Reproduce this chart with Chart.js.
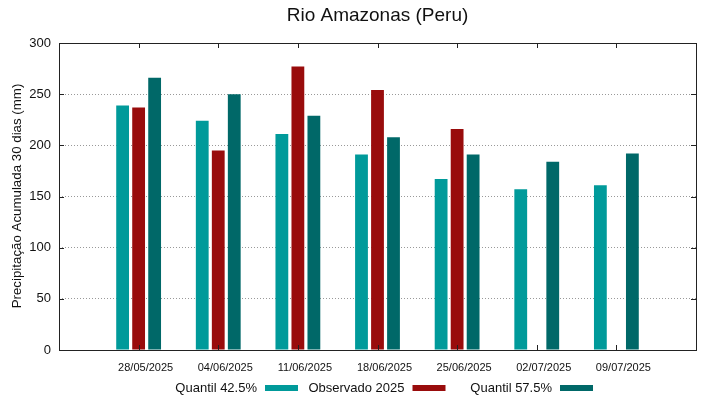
<!DOCTYPE html>
<html>
<head>
<meta charset="utf-8">
<script src="https://cdn.jsdelivr.net/npm/chart.js@4/dist/chart.umd.min.js"></script>
<style>
html,body{margin:0;padding:0;background:#fff;}
#wrap{position:relative;width:719px;height:399px;}
</style>
</head>
<body>
<div id="wrap"><canvas id="c" width="719" height="399"></canvas></div>
<script>
const titleText = 'Rio Amazonas (Peru)';
const yTitle = 'Precipitação Acumulada 30 dias (mm)';
const dates = ['28/05/2025','04/06/2025','11/06/2025','18/06/2025','25/06/2025','02/07/2025','09/07/2025'];
const q425 = [239, 224, 211, 191, 167, 157, 161];
const obs2025 = [237, 195, 277, 254, 216, null, null];
const q575 = [266, 250, 229, 208, 191, 184, 192];
const yTicks = [0, 50, 100, 150, 200, 250, 300];
const seriesNames = ['Quantil 42.5%', 'Observado 2025', 'Quantil 57.5%'];
const seriesColors = ['#009a9a', '#990c0c', '#006868'];

const labels = [''].concat(dates, ['']);
const pad = arr => [null].concat(arr, [null]);

const FONT = '"Liberation Sans", Arial, sans-serif';

const framePlugin = {
  id: 'frame',
  afterDraw(chart) {
    const ctx = chart.ctx;
    const a = chart.chartArea;
    const xs = chart.scales.x, ys = chart.scales.y;
    ctx.save();
    // border
    ctx.strokeStyle = '#222';
    ctx.lineWidth = 1;
    ctx.strokeRect(Math.round(a.left) + 0.5, Math.round(a.top) + 0.5, Math.round(a.right - a.left), Math.round(a.bottom - a.top));
    // inward ticks
    ctx.beginPath();
    for (let i = 1; i <= dates.length; i++) {
      const px = Math.round(xs.getPixelForValue(i)) + 0.5;
      ctx.moveTo(px, a.bottom); ctx.lineTo(px, a.bottom - 5);
      ctx.moveTo(px, a.top); ctx.lineTo(px, a.top + 5);
    }
    yTicks.forEach(v => {
      const py = Math.round(ys.getPixelForValue(v)) + 0.5;
      ctx.moveTo(a.left, py); ctx.lineTo(a.left + 5, py);
      ctx.moveTo(a.right, py); ctx.lineTo(a.right - 5, py);
    });
    ctx.stroke();
    // title
    ctx.fillStyle = '#111';
    ctx.font = '19px ' + FONT;
    ctx.textAlign = 'center';
    ctx.textBaseline = 'middle';
    ctx.fillText(titleText, (a.left + a.right) / 2, 16);
    // y title
    ctx.save();
    ctx.translate(17, 196);
    ctx.rotate(-Math.PI / 2);
    ctx.font = '13.3px ' + FONT;
    ctx.fillText(yTitle, 0, 0);
    ctx.restore();
    // legend
    ctx.font = '13px ' + FONT;
    ctx.textAlign = 'right';
    ctx.textBaseline = 'middle';
    const ly = 388;
    chart.data.datasets.forEach((ds, i) => {
      const xr = 257 + i * 147.5;
      ctx.fillStyle = '#111';
      ctx.fillText(ds.label, xr, ly);
      ctx.fillStyle = ds.backgroundColor;
      ctx.fillRect(xr + 8, ly - 3, 33, 6);
    });
    ctx.restore();
  }
};

new Chart(document.getElementById('c'), {
  type: 'bar',
  data: {
    labels: labels,
    datasets: [
      { label: seriesNames[0], data: pad(q425), backgroundColor: seriesColors[0] },
      { label: seriesNames[1], data: pad(obs2025), backgroundColor: seriesColors[1] },
      { label: seriesNames[2], data: pad(q575), backgroundColor: seriesColors[2] }
    ]
  },
  options: {
    responsive: false,
    animation: false,
    devicePixelRatio: 1,
    layout: { padding: { top: 43, right: 23, left: 0, bottom: 0 } },
    datasets: { bar: { categoryPercentage: 0.603, barPercentage: 0.8 } },
    plugins: { legend: { display: false }, title: { display: false }, tooltip: { enabled: false } },
    scales: {
      x: {
        type: 'category',
        offset: false,
        afterFit(s) { s.height = 49; },
        grid: { display: false, drawTicks: false },
        border: { display: false },
        ticks: { font: { family: FONT, size: 11 }, color: '#111', padding: 11, labelOffset: 7, autoSkip: false, maxRotation: 0 }
      },
      y: {
        min: 0, max: 300,
        afterFit(s) { s.width = 59; },
        afterBuildTicks(s) { s.ticks = yTicks.map(v => ({ value: v })); },
        grid: { color: '#999', drawTicks: false, lineWidth: 1 },
        border: { display: false, dash: [1, 2] },
        ticks: { font: { family: FONT, size: 13 }, color: '#111', padding: 8 }
      }
    }
  },
  plugins: [framePlugin]
});
</script>
</body>
</html>
